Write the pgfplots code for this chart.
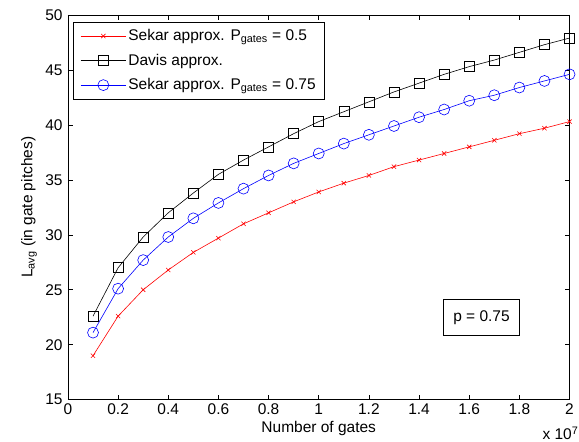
\documentclass[border=0pt]{standalone}
\usepackage{fontspec}
\setmainfont{Liberation Sans}
\usepackage{pgfplots}
\pgfplotsset{compat=1.18}
\begin{document}
\fontsize{15.5pt}{17pt}\selectfont
\begin{tikzpicture}
\begin{axis}[
    scale only axis,
    width=502pt, height=385pt,
    xmin=0, xmax=2, ymin=15, ymax=50,
    xtick={0,0.2,...,2}, ytick={15,20,...,50},
    xticklabels={0,0.2,0.4,0.6,0.8,1,1.2,1.4,1.6,1.8,2},
    /pgf/number format/assume math mode=true,
    tick label style={font=\fontsize{15.5pt}{17pt}\selectfont},
    label style={font=\fontsize{15.5pt}{17pt}\selectfont},
    tick align=inside, major tick length=5pt,
    tick style={black, line width=0.6pt},
    axis line style={line width=0.7pt},
    xticklabel style={yshift=1pt},
    xlabel={Number of gates},
    ylabel={L\textsubscript{avg} (in gate pitches)},
    xlabel style={yshift=4pt},
    ylabel style={yshift=-2pt},
    legend cell align=left,
    legend style={at={(0.01,0.982)}, anchor=north west, draw=black,
        line width=0.7pt, font=\fontsize{15.5pt}{17pt}\selectfont,
        row sep=7pt, inner xsep=7pt, inner ysep=5pt},
    legend image post style={line width=0.6pt},
    legend image code/.code={
        \draw[mark repeat=2,mark phase=2] plot coordinates {(0cm,0cm) (0.8cm,0cm) (1.6cm,0cm)};},
    clip=false,
]
\addplot[red, line width=0.6pt, mark=x, mark size=3pt, mark options={solid}] coordinates {
(0.1,19.0) (0.2,22.6) (0.3,25.0) (0.4,26.8) (0.5,28.4) (0.6,29.7) (0.7,31.0)
(0.8,32.0) (0.9,33.0) (1.0,33.9) (1.1,34.7) (1.2,35.4) (1.3,36.2) (1.4,36.8)
(1.5,37.4) (1.6,38.0) (1.7,38.6) (1.8,39.2) (1.9,39.7) (2.0,40.3)};
\addlegendentry{Sekar approx. P\textsubscript{gates} = 0.5}
\addplot[black, line width=0.6pt, mark=square, mark size=5pt] coordinates {
(0.1,22.6) (0.2,27.0) (0.3,29.8) (0.4,32.0) (0.5,33.8) (0.6,35.5) (0.7,36.8)
(0.8,38.0) (0.9,39.2) (1.0,40.3) (1.1,41.2) (1.2,42.1) (1.3,43.0) (1.4,43.8)
(1.5,44.6) (1.6,45.3) (1.7,45.9) (1.8,46.6) (1.9,47.3) (2.0,47.9)};
\addlegendentry{Davis approx.}
\addplot[blue, line width=0.6pt, mark=o, mark size=5.5pt] coordinates {
(0.1,21.1) (0.2,25.1) (0.3,27.7) (0.4,29.8) (0.5,31.5) (0.6,32.9) (0.7,34.2)
(0.8,35.4) (0.9,36.5) (1.0,37.4) (1.1,38.3) (1.2,39.1) (1.3,39.9) (1.4,40.7)
(1.5,41.4) (1.6,42.2) (1.7,42.7) (1.8,43.4) (1.9,44.0) (2.0,44.6)};
\addlegendentry{Sekar approx. P\textsubscript{gates} = 0.75}
\node[draw=black, line width=0.7pt, minimum width=76pt, minimum height=36pt, inner sep=0pt]
    at (axis cs:1.649,22.5) {p = 0.75};
\node[anchor=south east, inner sep=0pt] at ([xshift=9pt,yshift=-40pt]current axis.south east) {x 10\textsuperscript{7}};
\end{axis}
\path (current axis.south west) ++(-68pt,-42pt) coordinate (bl);
\path (current axis.north east) ++(9pt,15pt) coordinate (tr);
\path (bl) (tr);
\end{tikzpicture}
\end{document}
